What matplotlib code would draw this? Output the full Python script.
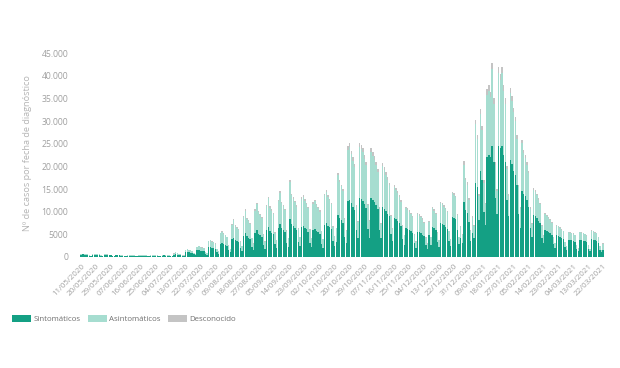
import numpy as np
import pandas as pd
import matplotlib
matplotlib.use("Agg")
import matplotlib.pyplot as plt
from matplotlib.patches import Patch

start_date = "2020-05-11"

sintomaticos = [
    540, 560, 520, 490, 460, 290, 210,
    500, 520, 480, 460, 430, 260, 190,
    430, 450, 420, 390, 360, 220, 170,
    350, 360, 340, 310, 300, 180, 130,
    320, 330, 310, 290, 270, 170, 120,
    300, 310, 290, 280, 260, 160, 120,
    300, 310, 300, 280, 270, 170, 120,
    330, 340, 330, 310, 300, 190, 140,
    540, 700, 550, 520, 500, 310, 230,
    1070, 1100, 1030, 960, 900, 560, 400,
    1450, 1500, 1400, 1300, 1220, 720, 500,
    2100, 2200, 2050, 1950, 1800, 1050, 750,
    2950, 3100, 2900, 2700, 2500, 1450, 1000,
    3900, 4300, 3800, 3600, 3350, 1950, 1350,
    4700, 5200, 4550, 4300, 3950, 2300, 1600,
    5300, 5900, 5100, 4850, 4500, 2600, 1800,
    5900, 6600, 5700, 5400, 5000, 2900, 2000,
    6500, 7300, 6300, 5950, 5500, 3150, 2200,
    8300, 7300, 6900, 6500, 6000, 3400, 2400,
    6700, 6900, 6500, 6100, 5600, 3200, 2200,
    6000, 6200, 5850, 5500, 5100, 2900, 2000,
    7100, 7500, 6950, 6550, 6100, 3500, 2400,
    3300, 9300, 8600, 8100, 7600, 4400, 3100,
    12300, 12600, 11900, 11100, 10400, 5900, 4100,
    13000, 12800, 12400, 11600, 10900, 6100, 4300,
    13000, 12600, 12100, 11400, 10600, 6000, 4200,
    11100, 10700, 10200, 9600, 9000, 5100, 3500,
    8600, 8300, 7900, 7400, 6900, 3900, 2700,
    6400, 6250, 6000, 5650, 5250, 3000, 2050,
    5600, 5450, 5250, 4950, 4550, 2600, 1750,
    4800, 2700, 6700, 6350, 5900, 3350, 2300,
    7500, 7300, 7000, 6650, 6200, 3600, 2500,
    8900, 8700, 8350, 5900, 2800, 4200, 3100,
    12200, 10300, 9700, 7700, 3600, 5400, 4200,
    16300, 15500, 8200, 19000, 17000, 10000, 7000,
    22000, 22600, 22000, 24400, 21000, 13000, 9500,
    24400, 24000, 24400, 22500, 21000, 12500, 9000,
    21500, 20500, 19000, 18000, 16000, 9500, 6500,
    14500, 14000, 13500, 12500, 11000, 6500, 4500,
    9300, 9000, 8600, 8000, 7400, 4300, 3000,
    6000, 5800, 5500, 5200, 4900, 2800, 2000,
    4900, 4700, 4500, 4300, 4000, 2300, 1600,
    3800, 3700, 3650, 3500, 3300, 1850, 1300,
    3800, 3700, 3600, 3450, 3250, 1800, 1250,
    3900, 3800, 3650, 3500, 3000, 1600, 1000,
    1600,
]

asintomaticos = [
    160, 170, 160, 140, 140, 80, 60,
    160, 160, 150, 140, 130, 80, 60,
    130, 130, 120, 120, 110, 70, 40,
    110, 110, 100, 100, 90, 50, 40,
    110, 110, 100, 100, 90, 50, 40,
    100, 100, 100, 90, 80, 50, 30,
    110, 110, 100, 100, 90, 50, 40,
    130, 130, 120, 120, 110, 70, 50,
    220, 380, 230, 220, 200, 120, 90,
    540, 560, 510, 480, 450, 270, 200,
    800, 850, 800, 750, 690, 400, 280,
    1400, 1500, 1360, 1260, 1120, 650, 470,
    2300, 2450, 2260, 2070, 1880, 1080, 750,
    3100, 3780, 3010, 2820, 2590, 1460, 990,
    4050, 5020, 3910, 3680, 3350, 1880, 1320,
    4900, 5780, 4820, 4490, 4160, 2270, 1610,
    5300, 6350, 5200, 4820, 4440, 2450, 1700,
    5770, 6820, 5580, 5250, 4820, 2690, 1890,
    8150, 6330, 5950, 5570, 5100, 2830, 1980,
    6150, 6440, 5960, 5580, 5110, 2840, 1990,
    5780, 6070, 5640, 5310, 4930, 2750, 1900,
    6530, 6910, 6390, 6010, 5580, 3120, 2180,
    3030, 8800, 7950, 7480, 7000, 3970, 2740,
    11400, 11770, 10820, 10180, 9420, 5220, 3640,
    11300, 11120, 10750, 10100, 9350, 5280, 3610,
    10150, 9780, 9410, 8860, 8210, 4610, 3130,
    9000, 8430, 7960, 7400, 6840, 3880, 2680,
    6800, 6520, 6140, 5770, 5300, 2980, 2050,
    4370, 4230, 4000, 3760, 3480, 1950, 1350,
    3810, 3670, 3480, 3300, 3020, 1670, 1160,
    2960, 1670, 4070, 3840, 3510, 1990, 1390,
    4400, 4300, 4110, 3880, 3650, 2060, 1400,
    5140, 5050, 4810, 3360, 1590, 2430, 1780,
    8200, 6620, 6250, 4870, 2200, 3300, 2570,
    13000, 10600, 5340, 12600, 11050, 6440, 4600,
    13800, 14150, 13300, 17100, 12850, 7300, 5000,
    16200, 15150, 16200, 14250, 12850, 6850, 4540,
    14700, 13850, 12950, 12000, 10150, 6000, 4150,
    10600, 9000, 8350, 7900, 7450, 4180, 2780,
    5550, 5370, 5000, 4620, 4250, 2500, 1660,
    3450, 3260, 3170, 2980, 2700, 1580, 1120,
    2050, 2050, 1960, 1770, 1680, 930, 750,
    1680, 1680, 1640, 1590, 1500, 790, 560,
    1680, 1680, 1590, 1540, 1450, 840, 510,
    1880, 1880, 1740, 1690, 1410, 750, 470,
    1300,
]

desconocido = [
    20, 20, 20, 20, 20, 10, 10,
    20, 20, 20, 20, 20, 10, 10,
    20, 20, 20, 10, 10, 10, 10,
    10, 10, 10, 10, 10, 10, 10,
    10, 10, 10, 10, 10, 10, 10,
    10, 10, 10, 10, 10, 10, 10,
    10, 10, 10, 10, 10, 10, 10,
    10, 10, 10, 10, 10, 10, 10,
    20, 20, 20, 20, 20, 20, 20,
    40, 40, 40, 40, 30, 20, 20,
    50, 50, 50, 50, 40, 30, 20,
    100, 100, 90, 90, 80, 50, 30,
    150, 150, 140, 130, 120, 70, 50,
    200, 220, 190, 180, 160, 90, 60,
    250, 280, 240, 220, 200, 120, 80,
    300, 320, 280, 260, 240, 130, 90,
    300, 350, 300, 280, 260, 150, 100,
    330, 380, 320, 300, 280, 160, 110,
    450, 370, 350, 330, 300, 170, 120,
    350, 360, 340, 320, 290, 160, 110,
    320, 330, 310, 290, 270, 150, 100,
    370, 390, 360, 340, 320, 180, 120,
    170, 500, 450, 420, 400, 230, 160,
    800, 830, 780, 720, 680, 380, 260,
    900, 880, 850, 800, 750, 420, 290,
    850, 820, 790, 740, 690, 390, 270,
    700, 670, 640, 600, 560, 320, 220,
    500, 480, 460, 430, 400, 220, 150,
    330, 320, 300, 290, 270, 150, 100,
    290, 280, 270, 250, 230, 130, 90,
    240, 130, 330, 310, 290, 160, 110,
    300, 300, 290, 270, 250, 140, 100,
    360, 350, 340, 240, 110, 170, 120,
    700, 580, 550, 430, 200, 300, 230,
    1000, 900, 460, 1100, 950, 560, 400,
    1200, 1250, 1200, 1400, 1150, 700, 500,
    1400, 1350, 1400, 1250, 1150, 650, 460,
    1200, 1150, 1050, 1000, 850, 500, 350,
    800, 700, 650, 600, 550, 320, 220,
    450, 430, 400, 380, 350, 200, 140,
    250, 240, 230, 220, 200, 120, 80,
    150, 150, 140, 130, 120, 70, 50,
    120, 120, 110, 110, 100, 60, 40,
    120, 120, 110, 110, 100, 60, 40,
    120, 120, 110, 110, 90, 50, 30,
    100,
]

series_names = ["Sintomáticos", "Asintomáticos", "Desconocido"]
colors = ["#14a084", "#a6ddd0", "#c4c4c4"]
y_ticks = [0, 5000, 10000, 15000, 20000, 25000, 30000, 35000, 40000, 45000]
y_ticklabels = ["0", "5000", "10.000", "15.000", "20.000", "25.000",
                "30.000", "35.000", "40.000", "45.000"]
y_label = "Nº de casos por fecha de diagnóstico"

plt.rcParams['font.family'] = ['Open Sans', 'DejaVu Sans']

s = np.array(sintomaticos)
a = np.array(asintomaticos)
g = np.array(desconocido)
n = len(s)
dates = pd.date_range(start_date, periods=n, freq="D")
x = np.arange(n)

fig = plt.figure(figsize=(6.2, 3.68), dpi=100)
ax_left, ax_right = 79.5 / 620, 606.5 / 620
ax_bottom = (368 - 257) / 368
ax_top = (368 - 50) / 368
ax = fig.add_axes([ax_left, ax_bottom, ax_right - ax_left, ax_top - ax_bottom])

w = 0.86
ax.bar(x, s, width=w, color=colors[0], linewidth=0)
ax.bar(x, a, width=w, bottom=s, color=colors[1], linewidth=0)
ax.bar(x, g, width=w, bottom=s + a, color=colors[2], linewidth=0)

ax.set_xlim(-1, n + 1)
ax.set_ylim(0, 45700)
for sp in ax.spines.values():
    sp.set_visible(False)

tick_color = "#a0a0a0"
ax.set_yticks(y_ticks)
ax.set_yticklabels(y_ticklabels, fontsize=6.2, color=tick_color)
tick_idx = x[::9]
ax.set_xticks(tick_idx)
ax.set_xticklabels([d.strftime("%d/%m/%Y") for d in dates[::9]],
                   rotation=45, ha="right", va="top", rotation_mode="anchor",
                   fontsize=5.7, color=tick_color)
ax.tick_params(axis="both", length=0)
ax.tick_params(axis="y", pad=8)
ax.tick_params(axis="x", pad=4)

ax.set_ylabel(y_label, fontsize=6.6, color="#b4b4b4")
ax.yaxis.set_label_coords(-0.09, 0.5)

handles = [Patch(facecolor=c, edgecolor="none") for c in colors]
fig.legend(handles, series_names, loc="center left",
           bbox_to_anchor=(5 / 620, 1 - 319 / 368), ncol=3, frameon=False,
           fontsize=5.7, handlelength=2.4, handleheight=1.1,
           handletextpad=0.3, columnspacing=0.9, labelcolor="#707070")

fig.savefig("out.png", dpi=100)
